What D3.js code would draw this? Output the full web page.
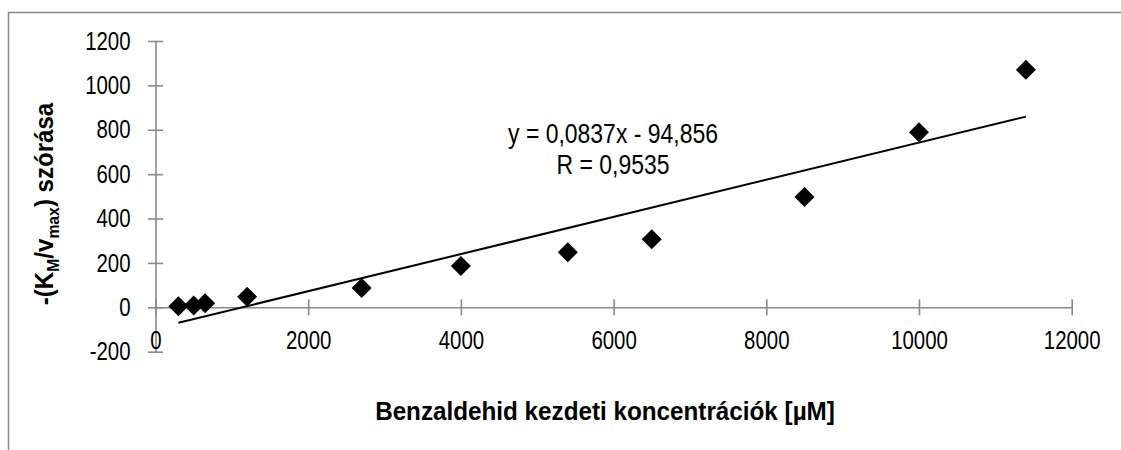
<!DOCTYPE html>
<html>
<head>
<meta charset="utf-8">
<script src="https://cdn.jsdelivr.net/npm/d3@7"></script>
<style>
  html, body { margin: 0; padding: 0; background: #fff; }
  svg { display: block; }
</style>
</head>
<body>
<svg id="chart" width="1121" height="450"></svg>
<script>
// ---- data ----
const concentrations = [300, 500, 650, 1200, 2700, 4000, 5400, 6500, 8500, 10000, 11400];
const deviations     = [5, 8, 18, 48, 87, 186, 248, 307, 497, 789, 1070];
const xTickValues = [0, 2000, 4000, 6000, 8000, 10000, 12000];
const yTickValues = [-200, 0, 200, 400, 600, 800, 1000, 1200];
const trendSlope = 0.0837;
const trendIntercept = -94.856;
const equationLines = ["y = 0,0837x - 94,856", "R = 0,9535"];
const xTitle = "Benzaldehid kezdeti koncentrációk [µM]";

// ---- layout ----
const W = 1121, H = 450;
const FONT = "'Liberation Sans', Arial, sans-serif";
const AXIS_COLOR = "#898989";
const NARROW = 0.8; // emulate a condensed face

const svg = d3.select("#chart");
svg.append("rect").attr("width", W).attr("height", H).attr("fill", "#fff");
// outer chart-area border (only top and left visible)
svg.append("rect")
  .attr("x", 8.5).attr("y", 12.5).attr("width", 1300).attr("height", 600)
  .attr("fill", "none").attr("stroke", AXIS_COLOR).attr("stroke-width", 1.5);

const x = d3.scaleLinear().domain([0, 12000]).range([155.5, 1071.7]);
const y = d3.scaleLinear().domain([-200, 1200]).range([351.7, 41]);

// y axis
const yAxis = d3.axisLeft(y).tickValues(yTickValues).tickFormat(d => String(d))
  .tickSizeInner(7.5).tickSizeOuter(0).tickPadding(17.5);
const gy = svg.append("g").attr("transform", `translate(${x(0)},0)`).call(yAxis);
gy.selectAll(".tick line").attr("x1", 7.5).attr("x2", -7.5);

// x axis
const xAxis = d3.axisBottom(x).tickValues(xTickValues).tickFormat(d => String(d))
  .tickSizeInner(8).tickSizeOuter(0).tickPadding(16);
const gx = svg.append("g").attr("transform", `translate(0,${y(0)})`).call(xAxis);
gx.selectAll(".tick line").attr("y1", -8).attr("y2", 8);

[gx, gy].forEach(g => {
  g.select(".domain").attr("stroke", AXIS_COLOR).attr("stroke-width", 1.6);
  g.selectAll(".tick line").attr("stroke", AXIS_COLOR).attr("stroke-width", 1.6);
  g.selectAll(".tick text").attr("fill", "#000")
    .style("font-family", FONT).style("font-size", "25.5px");
});
gy.selectAll(".tick text").attr("transform", `translate(-25,0) scale(${NARROW},1) translate(25,0)`);
gx.selectAll(".tick text").attr("transform", `scale(${NARROW},1)`);

// trend line
const xMin = d3.min(concentrations), xMax = d3.max(concentrations);
svg.append("line")
  .attr("x1", x(xMin)).attr("y1", y(trendSlope * xMin + trendIntercept))
  .attr("x2", x(xMax)).attr("y2", y(trendSlope * xMax + trendIntercept))
  .attr("stroke", "#000").attr("stroke-width", 2);

// points
const pts = concentrations.map((c, i) => ({ c, v: deviations[i] }));
const diamond = d3.symbol().type(d3.symbolSquare).size(200);
svg.append("g").selectAll("path").data(pts).join("path")
  .attr("d", diamond)
  .attr("transform", d => `translate(${x(d.c)},${y(d.v)}) rotate(45)`)
  .attr("fill", "#000");

// helper: fit a text element horizontally to a target width
function fitScale(node, target) {
  const w = node.getComputedTextLength ? node.getComputedTextLength() : node.getBBox().width;
  return w > 0 ? target / w : 1;
}

// equation label
const eqG = svg.append("g");
const eq = eqG.append("text")
  .attr("text-anchor", "middle")
  .style("font-family", FONT).style("font-size", "27px").attr("fill", "#000");
eq.selectAll("tspan").data(equationLines).join("tspan")
  .attr("x", 0).attr("y", (d, i) => 143 + i * 31).text(d => d);
const eqW = eq.select("tspan").node().getComputedTextLength();
const eqS = 210 / eqW;
eqG.attr("transform", `translate(613,0) scale(${eqS},1)`);

// x title
const xt = svg.append("text")
  .attr("x", 0).attr("y", 0)
  .attr("text-anchor", "middle")
  .style("font-family", FONT).style("font-size", "26px").style("font-weight", "bold")
  .attr("fill", "#000")
  .text(xTitle);
const xtS = fitScale(xt.node(), 460);
xt.attr("transform", `translate(605,420) scale(${xtS},1)`);

// y title
const yt = svg.append("text")
  .attr("text-anchor", "middle")
  .style("font-family", FONT).style("font-size", "26px").style("font-weight", "bold")
  .attr("fill", "#000");
yt.append("tspan").text("-(K");
yt.append("tspan").attr("dy", 6).style("font-size", "17px").text("M");
yt.append("tspan").attr("dy", -6).text("/v");
yt.append("tspan").attr("dy", 6).style("font-size", "17px").text("max");
yt.append("tspan").attr("dy", -6).text(") szórása");
const ytW = yt.node().getBBox().width;
const ytS = 203 / ytW;
yt.attr("transform", `translate(53,204) rotate(-90) scale(${ytS},1)`);
</script>
</body>
</html>
